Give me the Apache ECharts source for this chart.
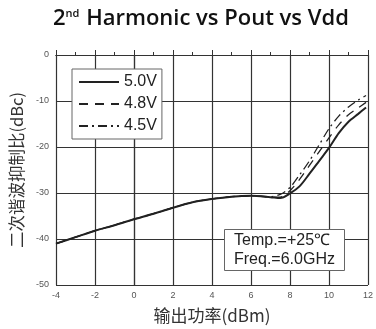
<!DOCTYPE html>
<html>
<head>
<meta charset="utf-8">
<script src="https://cdn.jsdelivr.net/npm/echarts@6/dist/echarts.min.js"></script>
<style>
html,body{margin:0;padding:0;background:#fff}
#chart{width:376px;height:329px}
</style>
</head>
<body>
<div id="chart"></div>
<script>
var pout = [-4,-3,-2,-1,0,1,2,3,4,5,6,7,7.5,8,8.5,9,9.5,10,10.5,11,11.5,11.9]
var h50 = [-41,-39.6,-38.2,-37,-35.7,-34.5,-33.2,-32,-31.3,-30.8,-30.6,-30.9,-31.1,-30.1,-28.5,-25.8,-23,-20.2,-17,-14.5,-12.8,-11.4]
var h48 = [-41,-39.6,-38.2,-37,-35.7,-34.5,-33.2,-32,-31.3,-30.8,-30.6,-30.9,-30.9,-29.5,-27,-24,-21,-18,-15.2,-13,-11.5,-10.3]
var h45 = [-41,-39.6,-38.2,-37,-35.7,-34.5,-33.2,-32,-31.3,-30.8,-30.6,-30.8,-30.3,-28.8,-26,-23,-19.5,-16,-13.3,-11.3,-9.8,-8.8]
var names = ['5.0V','4.8V','4.5V']

function pairs(ys){
	var out = []
	for(var i=0;i<pout.length;i++){
		out.push([pout[i],ys[i]])
	}
	return out
}

var chart = echarts.init(document.getElementById('chart'))

var axisCommon = {
	type:'value',
	axisLine:{show:true,lineStyle:{color:'#333',width:1.2}},
	axisTick:{show:true,inside:true,length:5,lineStyle:{color:'#333'}},
	splitLine:{show:true,lineStyle:{color:'#333',width:1.2}}
}

var option = {
	animation:false,
	title:[{
		text:'2{sup|nd} Harmonic vs Pout vs Vdd',
		left:48,
		top:3,
		textStyle:{
			fontFamily:'Open Sans',
			fontWeight:600,
			fontSize:22,
			color:'#111',
			rich:{
				sup:{fontFamily:'Open Sans',fontWeight:600,fontSize:11,color:'#111',verticalAlign:'top',padding:[0,1,10,0]}
			}
		}
	},{
		text:'Temp.=+25℃\nFreq.=6.0GHz',
		left:224,
		top:229,
		padding:[2,10,2,10],
		backgroundColor:'#fff',
		borderColor:'#666',
		borderWidth:1,
		textStyle:{fontFamily:'Liberation Sans',fontWeight:'normal',fontSize:16,color:'#222',lineHeight:19}
	}],
	legend:{
		orient:'vertical',
		left:72,
		top:69,
		itemWidth:40,
		itemHeight:10,
		itemGap:6,
		padding:[5,5,5,6],
		backgroundColor:'#fff',
		borderColor:'#666',
		borderWidth:1,
		itemStyle:{opacity:0},
		textStyle:{fontFamily:'Liberation Sans',fontSize:16,color:'#222'},
		data:names
	},
	grid:{left:56,right:-2,top:55,bottom:43},
	xAxis:[Object.assign({},axisCommon,{
		min:-4,max:12,interval:2,
		minorTick:{show:true,splitNumber:2,length:3,lineStyle:{color:'#333'}},
		axisLabel:{color:'#555',fontSize:9,fontFamily:'Liberation Sans',margin:6},
		name:'输出功率(dBm)',
		nameLocation:'middle',
		nameGap:22,
		nameTextStyle:{fontFamily:'Noto Sans CJK SC',fontSize:17,color:'#333'}
	}),Object.assign({},axisCommon,{
		position:'top',
		min:-4,max:12,interval:2,
		axisLabel:{show:false},
		splitLine:{show:false}
	})],
	yAxis:[Object.assign({},axisCommon,{
		min:-50,max:0,interval:10,
		axisLabel:{color:'#555',fontSize:9,fontFamily:'Liberation Sans',margin:7},
		name:'二次谐波抑制比(dBc)',
		nameLocation:'middle',
		nameGap:30,
		nameTextStyle:{fontFamily:'Noto Sans CJK SC',fontSize:16.5,color:'#333'}
	})],
	series:[{
		name:names[0],
		type:'line',
		symbol:'none',
		smooth:0.3,
		lineStyle:{color:'#222',width:2},
		itemStyle:{color:'#222'},
		data:pairs(h50)
	},{
		name:names[1],
		type:'line',
		symbol:'none',
		smooth:0.3,
		lineStyle:{color:'#222',width:1.3,type:[9,7]},
		itemStyle:{color:'#222'},
		data:pairs(h48)
	},{
		name:names[2],
		type:'line',
		symbol:'none',
		smooth:0.3,
		lineStyle:{color:'#222',width:1.3,type:[9,4,2,4]},
		itemStyle:{color:'#222'},
		data:pairs(h45)
	}]
}

chart.setOption(option)
</script>
</body>
</html>
